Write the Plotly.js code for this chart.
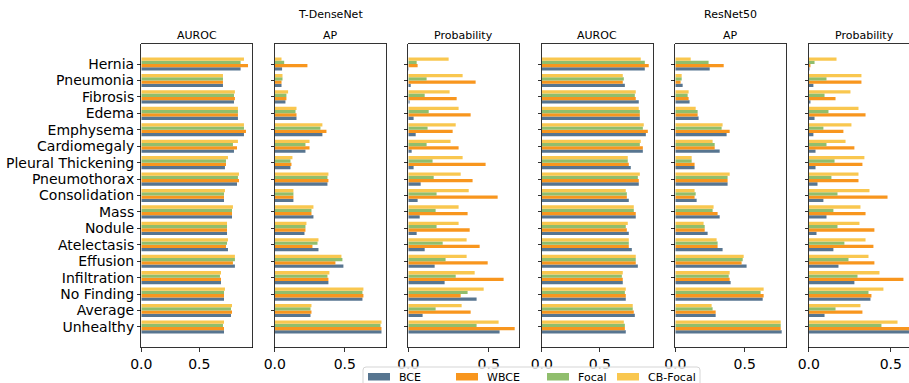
<!DOCTYPE html>
<html>
<head>
<meta charset="utf-8">
<script src="https://cdn.plot.ly/plotly-3.0.1.min.js"></script>
<style>html,body{margin:0;padding:0;background:#fff;}#chart{width:909px;height:383px;}</style>
</head>
<body>
<div id="chart"></div>
<script>
// ---- Data ----
const categories = ["Hernia","Pneumonia","Fibrosis","Edema","Emphysema","Cardiomegaly","Pleural Thickening","Pneumothorax","Consolidation","Mass","Nodule","Atelectasis","Effusion","Infiltration","No Finding","Average","Unhealthy"];
const seriesNames = ["BCE","WBCE","Focal","CB-Focal"];
const panelTitles = ["AUROC","AP","Probability","AUROC","AP","Probability"];
const modelNames = ["T-DenseNet","ResNet50"];
const xTickVals = [0.0, 0.5];

// T-DenseNet
const tdAurocBCE   = [0.856,0.704,0.799,0.833,0.885,0.799,0.721,0.825,0.713,0.782,0.739,0.747,0.807,0.687,0.713,0.773,0.713];
const tdAurocWBCE  = [0.920,0.704,0.807,0.833,0.902,0.825,0.730,0.842,0.713,0.782,0.739,0.730,0.790,0.687,0.713,0.782,0.713];
const tdAurocFocal = [0.856,0.704,0.799,0.833,0.885,0.790,0.730,0.833,0.713,0.782,0.739,0.739,0.807,0.678,0.713,0.773,0.704];
const tdAurocCB    = [0.885,0.704,0.807,0.833,0.885,0.833,0.747,0.842,0.721,0.790,0.739,0.747,0.807,0.687,0.721,0.782,0.713];

const tdApBCE   = [0.052,0.048,0.076,0.155,0.340,0.219,0.112,0.376,0.133,0.276,0.212,0.312,0.490,0.383,0.626,0.255,0.762];
const tdApWBCE  = [0.233,0.048,0.083,0.155,0.369,0.248,0.119,0.383,0.133,0.262,0.219,0.269,0.433,0.383,0.633,0.262,0.762];
const tdApFocal = [0.067,0.055,0.083,0.148,0.326,0.219,0.112,0.376,0.133,0.262,0.219,0.305,0.483,0.376,0.626,0.255,0.755];
const tdApCB    = [0.048,0.055,0.095,0.155,0.340,0.248,0.126,0.383,0.133,0.276,0.226,0.312,0.476,0.390,0.633,0.262,0.762];

const tdProbBCE   = [0.003,0.015,0.008,0.033,0.046,0.021,0.033,0.077,0.058,0.071,0.052,0.102,0.164,0.226,0.425,0.089,0.568];
const tdProbWBCE  = [0.058,0.419,0.301,0.388,0.276,0.313,0.481,0.400,0.556,0.369,0.382,0.444,0.494,0.593,0.326,0.388,0.662];
const tdProbFocal = [0.052,0.114,0.102,0.127,0.120,0.114,0.151,0.158,0.176,0.170,0.176,0.214,0.232,0.295,0.369,0.170,0.425];
const tdProbCB    = [0.251,0.338,0.257,0.313,0.295,0.263,0.338,0.326,0.376,0.313,0.313,0.363,0.363,0.413,0.469,0.332,0.562];

// ResNet50
const rnAurocBCE   = [0.888,0.716,0.836,0.845,0.897,0.871,0.767,0.836,0.750,0.810,0.750,0.776,0.828,0.698,0.724,0.802,0.724];
const rnAurocWBCE  = [0.922,0.698,0.810,0.845,0.914,0.871,0.750,0.836,0.733,0.810,0.733,0.750,0.810,0.698,0.724,0.793,0.716];
const rnAurocFocal = [0.888,0.707,0.802,0.845,0.871,0.845,0.741,0.828,0.733,0.793,0.724,0.750,0.810,0.690,0.716,0.784,0.716];
const rnAurocCB    = [0.853,0.698,0.810,0.836,0.879,0.853,0.741,0.845,0.724,0.793,0.741,0.750,0.810,0.698,0.724,0.784,0.707];

const rnApBCE   = [0.248,0.053,0.103,0.168,0.370,0.320,0.139,0.377,0.154,0.320,0.233,0.341,0.514,0.399,0.630,0.291,0.767];
const rnApWBCE  = [0.349,0.038,0.096,0.161,0.392,0.284,0.139,0.377,0.139,0.305,0.212,0.305,0.478,0.392,0.637,0.291,0.760];
const rnApFocal = [0.240,0.046,0.089,0.161,0.334,0.284,0.118,0.377,0.147,0.269,0.212,0.305,0.486,0.385,0.615,0.269,0.760];
const rnApCB    = [0.111,0.046,0.096,0.147,0.341,0.269,0.118,0.392,0.139,0.276,0.204,0.298,0.493,0.392,0.637,0.262,0.760];

const rnProbBCE   = [0.004,0.028,0.010,0.035,0.028,0.041,0.041,0.053,0.089,0.108,0.047,0.150,0.181,0.278,0.376,0.096,0.620];
const rnProbWBCE  = [0.010,0.321,0.163,0.346,0.211,0.278,0.327,0.303,0.480,0.346,0.400,0.394,0.400,0.577,0.382,0.327,0.640];
const rnProbFocal = [0.035,0.108,0.096,0.120,0.089,0.108,0.157,0.138,0.175,0.150,0.175,0.217,0.242,0.297,0.364,0.163,0.443];
const rnProbCB    = [0.169,0.321,0.254,0.303,0.260,0.224,0.339,0.303,0.370,0.315,0.309,0.346,0.364,0.431,0.455,0.315,0.541];

// ---- Build ----
const colors = ["#577590","#f8961e","#90be6d","#f9c74f"];
const panels = [
  [tdAurocBCE, tdAurocWBCE, tdAurocFocal, tdAurocCB],
  [tdApBCE, tdApWBCE, tdApFocal, tdApCB],
  [tdProbBCE, tdProbWBCE, tdProbFocal, tdProbCB],
  [rnAurocBCE, rnAurocWBCE, rnAurocFocal, rnAurocCB],
  [rnApBCE, rnApWBCE, rnApFocal, rnApCB],
  [rnProbBCE, rnProbWBCE, rnProbFocal, rnProbCB]
];
const W = 909, H = 383;
const px = v => v / W;
const py = v => 1 - v / H;
const plotTop = 43.5, plotBottom = 347.5;
const left0 = 141.3, step = 133.5, pw = 111;
const pxPerUnit = [116, 140, 160.7, 116, 138.7, 164];

const catOrder = categories.slice().reverse();
const traces = [];
const layout = {
  width: W, height: H,
  margin: {l:0, r:0, t:0, b:0, autoexpand: false},
  paper_bgcolor: "#fff", plot_bgcolor: "#fff",
  font: {family: "DejaVu Sans", color: "#000", size: 11},
  barmode: "group", bargap: 0.2, bargroupgap: 0,
  showlegend: false,
  annotations: [], shapes: []
};

panels.forEach((series, p) => {
  const idx = p + 1;
  const xa = "x" + (idx === 1 ? "" : idx), ya = "y" + (idx === 1 ? "" : idx);
  series.forEach((vals, s) => {
    traces.push({
      type: "bar", orientation: "h", x: vals, y: categories,
      xaxis: xa, yaxis: ya, name: seriesNames[s],
      marker: {color: colors[s], line: {width: 0}},
      hoverinfo: "x+name"
    });
  });
  const x0 = left0 + p * step;
  let x1 = x0 + pw;
  let xr = pw / pxPerUnit[p];
  if (x1 > W) { xr = (W - x0) / pxPerUnit[p]; x1 = W; }
  const xkey = "xaxis" + (idx === 1 ? "" : idx), ykey = "yaxis" + (idx === 1 ? "" : idx);
  layout[xkey] = {
    domain: [px(x0), px(x1)], anchor: ya, range: [0, xr],
    tickmode: "array", tickvals: xTickVals, tickformat: ".1f", ticks: "outside", ticklen: 3.5, tickwidth: 0.8,
    tickcolor: "#000", showgrid: false, zeroline: false, showline: true, linecolor: "#000",
    linewidth: 0.8, mirror: true, tickfont: {size: 14, family: "DejaVu Sans", color: "#000"},
    automargin: false, fixedrange: true
  };
  layout[ykey] = {
    domain: [py(plotBottom), py(plotTop)], anchor: xa,
    type: "category", categoryorder: "array", categoryarray: catOrder,
    tickmode: "array", tickvals: categories, ticktext: categories,
    range: [-1.25, 17.25], ticks: "outside", ticklen: 3.5, tickwidth: 0.8, tickcolor: "#000",
    showticklabels: p === 0, tickfont: {size: 14, family: "DejaVu Sans", color: "#000"},
    showgrid: false, zeroline: false, showline: true, linecolor: "#000", linewidth: 0.8,
    mirror: p === 5 ? false : true, automargin: false, fixedrange: true
  };
  layout.annotations.push({
    text: panelTitles[p], xref: "paper", yref: "paper",
    x: px(x0 + pw / 2), y: py(35.5), xanchor: "center", yanchor: "middle",
    showarrow: false, font: {size: 11, family: "DejaVu Sans", color: "#000"}
  });
});
modelNames.forEach((m, i) => {
  const centerPanel = i === 0 ? 1 : 4;
  layout.annotations.push({
    text: m, xref: "paper", yref: "paper",
    x: px(left0 + centerPanel * step + pw / 2), y: py(15), xanchor: "center", yanchor: "middle",
    showarrow: false, font: {size: 11, family: "DejaVu Sans", color: "#000"}
  });
});

// ---- Legend (drawn manually so it can run off the bottom edge like the reference) ----
const legLeft = 363, legRight = 700, legTop = 367, legBottom = 392, r = 3;
layout.shapes.push({
  type: "path", xref: "paper", yref: "paper",
  path: `M ${px(legLeft + r)} ${py(legTop)} L ${px(legRight - r)} ${py(legTop)} Q ${px(legRight)} ${py(legTop)} ${px(legRight)} ${py(legTop + r)} L ${px(legRight)} ${py(legBottom)} L ${px(legLeft)} ${py(legBottom)} L ${px(legLeft)} ${py(legTop + r)} Q ${px(legLeft)} ${py(legTop)} ${px(legLeft + r)} ${py(legTop)} Z`,
  line: {color: "#d5d5d5", width: 1}, fillcolor: "rgba(255,255,255,0.8)"
});
const swatchLeft = [368, 456, 547, 617];
seriesNames.forEach((n, s) => {
  const sx = swatchLeft[s];
  layout.shapes.push({
    type: "rect", xref: "paper", yref: "paper",
    x0: px(sx), x1: px(sx + 22), y0: py(380.5), y1: py(373),
    fillcolor: colors[s], line: {width: 0}
  });
  layout.annotations.push({
    text: n, xref: "paper", yref: "paper", x: px(sx + 29), y: py(377),
    xanchor: "left", yanchor: "middle", showarrow: false,
    font: {size: 11, family: "DejaVu Sans", color: "#000"}
  });
});

Plotly.newPlot("chart", traces, layout, {displayModeBar: false, staticPlot: true});
</script>
</body>
</html>
